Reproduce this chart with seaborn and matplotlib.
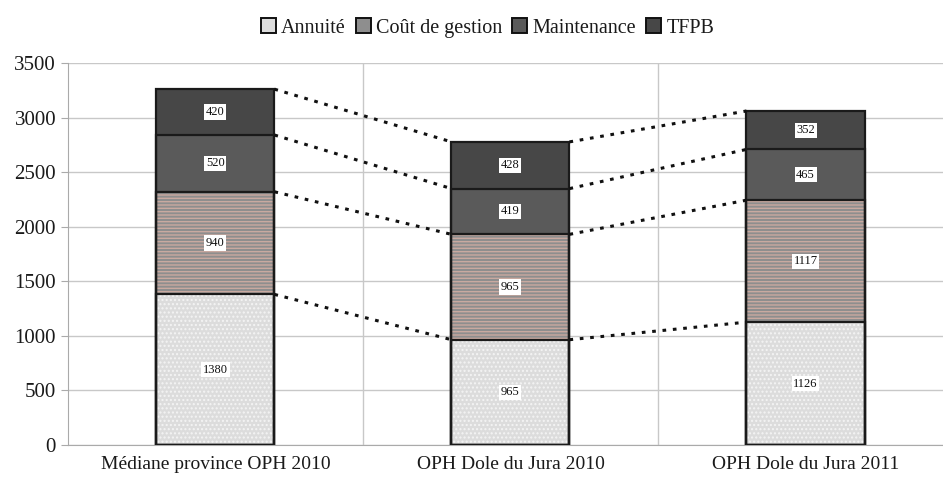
import numpy as np
import pandas as pd
import matplotlib.pyplot as plt
import seaborn as sns
from matplotlib.patches import Patch

categories = ["Médiane province OPH 2010", "OPH Dole du Jura 2010", "OPH Dole du Jura 2011"]
series = ["Annuité", "Coût de gestion", "Maintenance", "TFPB"]
annuite = [1380, 965, 1126]
cout_gestion = [940, 965, 1117]
maintenance = [520, 419, 465]
tfpb = [420, 428, 352]

values = np.array([annuite, cout_gestion, maintenance, tfpb])
cum = values.cumsum(axis=0)

face = ["#dcdcdc", "#8e8e8e", "#5a5a5a", "#474747"]
hatch_col = ["#f4f4f4", "#c9a9a0", "#6a6a6a", "#555555"]
hatches = ["....", "-----", None, None]

sns.set_style("white")
plt.rcParams['font.family'] = ['Liberation Serif', 'DejaVu Serif']

fig = plt.figure(figsize=(9.43, 4.88), dpi=100)
ax = fig.add_axes([0.072, 0.088, 0.928, 0.783])

# stacked bars: draw cumulative totals from top layer down
for k in range(len(series) - 1, -1, -1):
    df = pd.DataFrame({"cat": categories, "val": cum[k]})
    sns.barplot(data=df, x="cat", y="val", color=face[k], width=0.4,
                saturation=1, ax=ax, hatch=hatches[k], edgecolor=hatch_col[k],
                linewidth=0, zorder=2)
for k in range(len(series) - 1, -1, -1):
    df = pd.DataFrame({"cat": categories, "val": cum[k]})
    sns.barplot(data=df, x="cat", y="val", width=0.4, fill=False,
                color="#1a1a1a", linewidth=1.6, ax=ax, zorder=3)

# value labels
for k in range(len(series)):
    for i in range(len(categories)):
        y = cum[k][i] - values[k][i] / 2
        ax.text(i, y, str(values[k][i]), ha="center", va="center", fontsize=9,
                color="#111111", zorder=5,
                bbox=dict(facecolor="white", edgecolor="none", pad=1.2))

# dotted connectors between segments
for k in range(len(series)):
    for i in range(len(categories) - 1):
        ax.plot([i + 0.2, i + 0.8], [cum[k][i], cum[k][i + 1]], ls=(0, (1.2, 2.2)),
                color="#111111", lw=2.2, zorder=4)

ax.set_ylim(0, 3500)
ax.set_xlim(-0.5, 2.466)
ax.set_yticks(range(0, 3501, 500))
ax.yaxis.grid(True, color="#c8c8c8", lw=1)
ax.set_axisbelow(True)
for xv in [0.5, 1.5]:
    ax.axvline(xv, color="#c8c8c8", lw=1, zorder=0)
ax.set_xlabel("")
ax.set_ylabel("")
ax.tick_params(axis="both", colors="#1a1a1a")
ax.tick_params(axis="y", labelsize=15, length=5, color="#aaaaaa", left=True)
ax.tick_params(axis="x", labelsize=14, length=0, pad=8)
for s in ["top", "right"]:
    ax.spines[s].set_visible(False)
for s in ["left", "bottom"]:
    ax.spines[s].set_color("#aaaaaa")

handles = [Patch(facecolor=face[k], edgecolor="#111111", lw=1.4) for k in range(len(series))]
fig.legend(handles, series, loc="upper center", bbox_to_anchor=(0.517, 1.0), ncol=4,
           frameon=False, fontsize=14.5, handlelength=0.75, handleheight=0.75,
           handletextpad=0.25, columnspacing=0.5, labelcolor="#1a1a1a")

fig.savefig("out.png", dpi=100)
